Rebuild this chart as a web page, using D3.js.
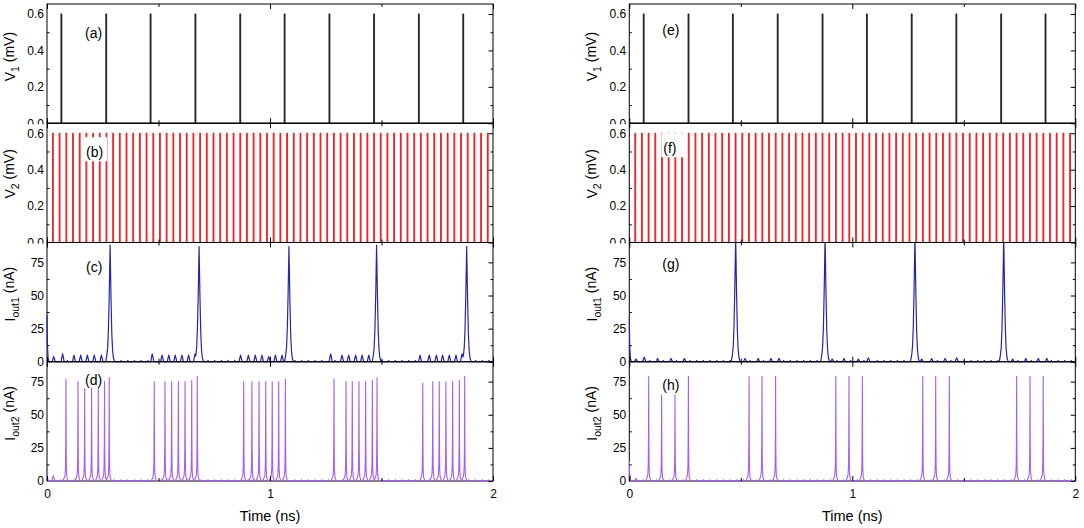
<!DOCTYPE html>
<html>
<head>
<meta charset="utf-8">
<script src="https://cdn.jsdelivr.net/npm/d3@7"></script>
<style>
  body { margin: 0; background: #fff; }
  svg { font-family: "Liberation Sans", Arial, sans-serif; }
  .tick text { font-size: 12px; fill: #000; }
  .tick line { stroke: #000; }
</style>
</head>
<body>
<svg id="chart"></svg>
<script>
// ---- data (time in ns) ----
var timeTicks = [0, 1, 2];
var timeMinorTicks = [0.5, 1.5];
var vTicks = [0, 0.2, 0.4, 0.6];
var vMinorTicks = [0.1, 0.3, 0.5];
var iTicks = [0, 25, 50, 75];
var iMinorTicks = [12.5, 37.5, 62.5];
var panelLetters = ["(a)", "(b)", "(c)", "(d)", "(e)", "(f)", "(g)", "(h)"];

// input pulse trains (same for both columns)
var v1PulseTimes = [0.063, 0.264, 0.463, 0.664, 0.865, 1.064, 1.265, 1.465, 1.666, 1.865];
var v1Amplitude = 0.6;
var v2PulseTimes = [
  0.025, 0.055, 0.085, 0.115, 0.145, 0.175, 0.205, 0.235, 0.265, 0.295,
  0.325, 0.355, 0.385, 0.415, 0.445, 0.475, 0.505, 0.535, 0.565, 0.595,
  0.625, 0.655, 0.685, 0.715, 0.745, 0.775, 0.805, 0.835, 0.865, 0.895,
  0.925, 0.955, 0.985, 1.015, 1.045, 1.075, 1.105, 1.135, 1.165, 1.195,
  1.225, 1.255, 1.285, 1.315, 1.345, 1.375, 1.405, 1.435, 1.465, 1.495,
  1.525, 1.555, 1.585, 1.615, 1.645, 1.675, 1.705, 1.735, 1.765, 1.795,
  1.825, 1.855, 1.885, 1.915, 1.945, 1.975
];
var v2Amplitude = 0.6;

// (c) Iout1, left column: [time, peak nA]
var iOut1LeftSpikes = [[0.283, 88], [0.682, 87], [1.085, 87], [1.478, 88], [1.882, 87]];
var iOut1LeftBumps = [
  [0.030, 4], [0.070, 6], [0.121, 5], [0.151, 5], [0.181, 5], [0.212, 5], [0.244, 5],
  [0.472, 6], [0.516, 5], [0.546, 5], [0.575, 5], [0.605, 5], [0.635, 5], [0.664, 6],
  [0.868, 5], [0.903, 5], [0.934, 5], [0.964, 5], [0.994, 4], [1.024, 5], [1.054, 5],
  [1.272, 6], [1.323, 5], [1.353, 5], [1.384, 5], [1.413, 5], [1.443, 5], [1.470, 6],
  [1.673, 5], [1.714, 5], [1.746, 5], [1.774, 5], [1.804, 5], [1.834, 5], [1.861, 6]
];
var iOut1LeftStart = 35;

// (d) Iout2, left column
var iOut2LeftSpikes = [
  [0.085, 77], [0.139, 75], [0.169, 70], [0.200, 70], [0.230, 70], [0.258, 75], [0.279, 78],
  [0.481, 75], [0.529, 75], [0.559, 75], [0.589, 75], [0.619, 75], [0.649, 76], [0.674, 79],
  [0.882, 75], [0.919, 75], [0.951, 75], [0.981, 75], [1.010, 75], [1.039, 75], [1.069, 77],
  [1.287, 77], [1.341, 75], [1.369, 75], [1.399, 75], [1.429, 75], [1.459, 76], [1.480, 78],
  [1.685, 74], [1.730, 75], [1.759, 75], [1.789, 75], [1.819, 75], [1.849, 76], [1.873, 79]
];
var iOut2LeftBumps = [[0.028, 4]];
var iOut2LeftStart = 8;

// (g) Iout1, right column
var iOut1RightSpikes = [[0.477, 95], [0.878, 95], [1.281, 95], [1.679, 95]];
var iOut1RightBumps = [
  [0.030, 2], [0.067, 3.5], [0.127, 2.5], [0.187, 2.5], [0.247, 2.5],
  [0.519, 2.5], [0.578, 2.5], [0.635, 2.5], [0.671, 2.5],
  [0.910, 2], [0.963, 2.5], [1.027, 2], [1.072, 3],
  [1.311, 2], [1.356, 2.5], [1.416, 2.5], [1.468, 3],
  [1.719, 2], [1.778, 2.5], [1.834, 2.5], [1.872, 2.5]
];
var iOut1RightStart = 33;

// (h) Iout2, right column
var iOut2RightSpikes = [
  [0.087, 79], [0.145, 65], [0.205, 65], [0.265, 79],
  [0.537, 79], [0.595, 79], [0.656, 79],
  [0.926, 79], [0.985, 79], [1.045, 79],
  [1.316, 79], [1.374, 79], [1.435, 79],
  [1.737, 79], [1.797, 79], [1.856, 79]
];
var iOut2RightBumps = [[0.030, 2]];
var iOut2RightStart = 15;

var responseLag = 0.007;   // small ripple after each V2 pulse
var rippleHeight = 0.9;

// ---- pulse shapes: [offset ns, fraction of peak] ----
var wideSpikeShape = [[-0.02, 0], [-0.015, 0.05], [-0.011, 0.12], [-0.0075, 0.28], [-0.004, 0.57],
  [0, 1], [0.004, 0.55], [0.0075, 0.25], [0.011, 0.1], [0.015, 0.03], [0.02, 0]];
var narrowSpikeShape = [[-0.014, 0], [-0.008, 0.03], [-0.004, 0.06], [-0.002, 0.15], [-0.001, 0.4],
  [0, 1], [0.001, 0.35], [0.002, 0.12], [0.004, 0.04], [0.008, 0.012], [0.012, 0]];
var bumpShape = [[-0.007, 0], [-0.003, 0.6], [0, 1], [0.003, 0.6], [0.007, 0]];
var rippleShape = [[-0.003, 0], [0, 1], [0.003, 0]];
var startShape = [[0, 1], [0.002, 0.35], [0.005, 0.08], [0.009, 0]];

function shapeAt(shape, dt) {
  if (dt < shape[0][0] || dt > shape[shape.length - 1][0]) return 0;
  for (var i = 0; i < shape.length - 1; i++) {
    var a = shape[i], b = shape[i + 1];
    if (dt >= a[0] && dt <= b[0]) {
      return a[1] + (b[1] - a[1]) * (dt - a[0]) / (b[0] - a[0]);
    }
  }
  return 0;
}

function pulseSeries(times, amp, w) {
  var pts = [[0, 0]];
  times.forEach(function(t) {
    pts.push([t, 0], [t, amp], [t + w, amp], [t + w, 0]);
  });
  pts.push([2, 0]);
  return pts;
}

function currentSeries(spikes, spikeShape, bumps, start) {
  var ev = [{t: 0, h: start, shape: startShape}];
  spikes.forEach(function(s) { ev.push({t: s[0], h: s[1], shape: spikeShape}); });
  bumps.forEach(function(b) { ev.push({t: b[0], h: b[1], shape: bumpShape}); });
  v2PulseTimes.forEach(function(t0) {
    var t = t0 + responseLag;
    var near = ev.some(function(e) { return e.shape !== startShape && Math.abs(e.t - t) < 0.013; });
    if (!near && t < 2) ev.push({t: t, h: rippleHeight, shape: rippleShape});
  });
  var ts = [0, 2];
  ev.forEach(function(e) {
    e.shape.forEach(function(s) { ts.push(e.t + s[0]); });
  });
  ts = Array.from(new Set(ts.filter(function(t) { return t >= 0 && t <= 2; }))).sort(d3.ascending);
  return ts.map(function(t) {
    return [t, d3.max(ev, function(e) { return e.h * shapeAt(e.shape, t - e.t); })];
  });
}

// ---- layout ----
var svgWidth = 1084, svgHeight = 528;
var plotW = 446, rowH = 119.25;
var colLeft = [47, 629.3];
var rowTop = [4, 123.25, 242.5, 361.75];

var svg = d3.select("#chart").attr("width", svgWidth).attr("height", svgHeight);

var v1Series = pulseSeries(v1PulseTimes, v1Amplitude, 0.003);
var v2Series = pulseSeries(v2PulseTimes, v2Amplitude, 0.003);

var columns = [
  [v1Series, v2Series,
   currentSeries(iOut1LeftSpikes, wideSpikeShape, iOut1LeftBumps, iOut1LeftStart),
   currentSeries(iOut2LeftSpikes, narrowSpikeShape, iOut2LeftBumps, iOut2LeftStart)],
  [v1Series, v2Series,
   currentSeries(iOut1RightSpikes, wideSpikeShape, iOut1RightBumps, iOut1RightStart),
   currentSeries(iOut2RightSpikes, narrowSpikeShape, iOut2RightBumps, iOut2RightStart)]
];

var rowStyle = [
  {domain: [0, 0.655], ticks: vTicks, minor: vMinorTicks, fmt: d3.format(".1f"), color: "#262626", width: 1.2, title: ["V", "1", " (mV)"]},
  {domain: [0, 0.655], ticks: vTicks, minor: vMinorTicks, fmt: d3.format(".1f"), color: "#f0262b", width: 1.2, title: ["V", "2", " (mV)"]},
  {domain: [0, 90], ticks: iTicks, minor: iMinorTicks, fmt: d3.format("d"), color: "#2626a6", width: 1.2, title: ["I", "out1", " (nA)"]},
  {domain: [0, 90], ticks: iTicks, minor: iMinorTicks, fmt: d3.format("d"), color: "#a65ff0", width: 1.1, title: ["I", "out2", " (nA)"]}
];
// letter positions relative to plot left / panel top (baseline)
var letterPos = [[[38, 34], [39, 34], [39, 29], [38, 23]], [[33, 31], [34, 30], [33, 26], [33, 28]]];
var titleShift = [-7, -9, -8, -8];

var x = d3.scaleLinear().domain([0, 2]).range([0, plotW]);

columns.forEach(function(colSeries, c) {
  colSeries.forEach(function(series, r) {
    var st = rowStyle[r];
    var id = "p" + c + r;
    var y = d3.scaleLinear().domain(st.domain).range([rowH, 0]);
    var g = svg.append("g").attr("transform", "translate(" + colLeft[c] + "," + rowTop[r] + ")");

    g.append("clipPath").attr("id", "clip" + id)
      .append("rect").attr("x", -1).attr("y", 0).attr("width", plotW + 2).attr("height", rowH + 1.5);
    g.append("clipPath").attr("id", "lab" + id)
      .append("rect").attr("x", -45).attr("y", -12).attr("width", 45).attr("height", rowH + (r < 2 ? 13 : 30));

    // frame
    g.append("rect").attr("width", plotW).attr("height", rowH)
      .attr("fill", "none").attr("stroke", "#000").attr("stroke-width", 1);

    // trace
    var line = d3.line().x(function(d) { return x(d[0]); }).y(function(d) { return y(d[1]); });
    g.append("path").datum(series)
      .attr("clip-path", "url(#clip" + id + ")")
      .attr("fill", "none").attr("stroke", st.color).attr("stroke-width", st.width)
      .attr("stroke-linejoin", "round").attr("d", line);

    // y axes (ticks inward)
    var left = g.append("g").attr("clip-path", "url(#lab" + id + ")")
      .call(d3.axisLeft(y).tickValues(st.ticks).tickSize(-4.5).tickPadding(3).tickFormat(st.fmt));
    left.select(".domain").remove();
    g.append("g").call(d3.axisLeft(y).tickValues(st.minor).tickSize(-2.5).tickFormat(""))
      .select(".domain").remove();
    g.append("g").attr("transform", "translate(" + plotW + ",0)")
      .call(d3.axisRight(y).tickValues(st.ticks).tickSize(-4.5).tickFormat(""))
      .select(".domain").remove();
    g.append("g").attr("transform", "translate(" + plotW + ",0)")
      .call(d3.axisRight(y).tickValues(st.minor).tickSize(-2.5).tickFormat(""))
      .select(".domain").remove();

    // x axes top & bottom
    g.append("g").call(d3.axisTop(x).tickValues(timeTicks).tickSize(-5).tickFormat(""))
      .select(".domain").remove();
    g.append("g").call(d3.axisTop(x).tickValues(timeMinorTicks).tickSize(-3).tickFormat(""))
      .select(".domain").remove();
    var bottom = g.append("g").attr("transform", "translate(0," + rowH + ")")
      .call(d3.axisBottom(x).tickValues(timeTicks).tickSize(-5).tickPadding(8)
        .tickFormat(r === 3 ? d3.format("d") : ""));
    bottom.select(".domain").remove();
    g.append("g").attr("transform", "translate(0," + rowH + ")")
      .call(d3.axisBottom(x).tickValues(timeMinorTicks).tickSize(-3).tickFormat(""))
      .select(".domain").remove();

    // panel letter
    var lp = letterPos[c][r];
    if (r === 1) {
      g.append("rect").attr("x", lp[0] - 2).attr("y", lp[1] - 20)
        .attr("width", 23).attr("height", 24).attr("fill", "#fff");
    }
    g.append("text").attr("x", lp[0]).attr("y", lp[1])
      .attr("font-size", 14).attr("fill", "#000")
      .text(panelLetters[c * 4 + r]);

    // y title
    var t = g.append("text")
      .attr("transform", "translate(-32," + (rowH / 2 + titleShift[r]) + ") rotate(-90)")
      .attr("text-anchor", "middle").attr("font-size", 14).attr("fill", "#000");
    t.append("tspan").text(st.title[0]);
    t.append("tspan").attr("font-size", 10.5).attr("dy", "0.35em").text(st.title[1]);
    t.append("tspan").attr("dy", "-0.35em").text(st.title[2]);

    if (r === 3) {
      g.append("text").attr("x", x(1)).attr("y", rowH + 40)
        .attr("text-anchor", "middle").attr("font-size", 14.5).attr("fill", "#000")
        .text("Time (ns)");
    }
  });
});
</script>
</body>
</html>
